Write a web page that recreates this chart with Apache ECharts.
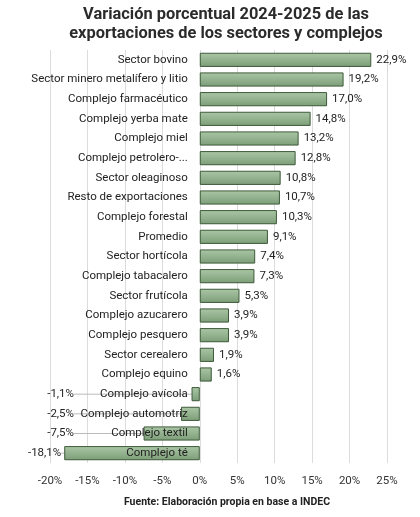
<!DOCTYPE html>
<html><head><meta charset="utf-8">
<script src="https://cdn.jsdelivr.net/npm/echarts@6/dist/echarts.min.js"></script>
<style>html,body{margin:0;padding:0;background:#fff}#c{width:420px;height:517px}</style>
</head><body><div id="c"></div>
<script>
var categories = ["Sector bovino","Sector minero metalífero y litio","Complejo farmacéutico","Complejo yerba mate","Complejo miel","Complejo petrolero-...","Sector oleaginoso","Resto de exportaciones","Complejo forestal","Promedio","Sector hortícola","Complejo tabacalero","Sector frutícola","Complejo azucarero","Complejo pesquero","Sector cerealero","Complejo equino","Complejo avícola","Complejo automotriz","Complejo textil","Complejo té"];
var values = [22.9,19.2,17.0,14.8,13.2,12.8,10.8,10.7,10.3,9.1,7.4,7.3,5.3,3.9,3.9,1.9,1.6,-1.1,-2.5,-7.5,-18.1];
var titleText = "Variación porcentual 2024-2025 de las\nexportaciones de los sectores y complejos";
var sourceText = "Fuente: Elaboración propia en base a INDEC";

var chart = echarts.init(document.getElementById('c'));
var FONT = 'Roboto';
function fmt(v){ return v.toFixed(1).replace('.', ',') + '%'; }
var barData = values.map(function(v){
  return {value: v, labelLine: {show: v < 0}};
});
var GRID_LEFT = 50, GRID_RIGHT = 33, XMIN = -20, XMAX = 25;
var plotW = 420 - GRID_LEFT - GRID_RIGHT;
var zeroOffset = plotW * (0 - XMIN) / (XMAX - XMIN);
chart.setOption({
  animation: false,
  textStyle: {fontFamily: FONT},
  title: [{
    text: titleText, left: 221, textAlign: 'center', top: 0,
    textStyle: {fontFamily: FONT, fontSize: 16.4, fontWeight: 'bold', color: '#2b2b2b', lineHeight: 19}
  },{
    text: sourceText, left: 222, textAlign: 'center', bottom: 4,
    textStyle: {fontFamily: FONT, fontSize: 10.5, fontWeight: 'bold', color: '#222'}
  }],
  grid: {left: GRID_LEFT, right: GRID_RIGHT, top: 50, bottom: 54, containLabel: false, outerBoundsMode: 'none'},
  xAxis: {
    type: 'value', min: XMIN, max: XMAX, interval: 5,
    axisLabel: {formatter: function(v){return v + '%';}, color: '#333', fontSize: 11.5, margin: 12},
    axisLine: {show: false}, axisTick: {show: false},
    splitLine: {lineStyle: {color: '#dcdcdc', width: 1}}
  },
  yAxis: {
    type: 'category', data: categories, inverse: true, z: 10, offset: -zeroOffset,
    axisLine: {show: false, onZero: false}, axisTick: {show: false},
    axisLabel: {color: '#222', fontSize: 11.5, fontFamily: FONT, margin: 12}
  },
  series: [{
    type: 'bar', data: barData, barCategoryGap: '28%',
    itemStyle: {
      color: new echarts.graphic.LinearGradient(0,0,0,1,[{offset:0,color:'#abc7a6'},{offset:1,color:'#7c9d77'}]),
      borderColor: '#3d5a3a', borderWidth: 1
    },
    label: {show: true, position: 'right', color: '#222', fontSize: 11.5,
      formatter: function(p){ return fmt(p.value); }, distance: 5},
    labelLine: {lineStyle: {color: '#bbb', width: 1}},
    labelLayout: function(p){
      var v = values[p.dataIndex];
      if (v < 0) {
        var r = p.rect;
        var left = Math.min(r.x, r.x + r.width);
        var x = Math.min(left - 3, 74);
        return {x: x - p.labelRect.width, y: p.labelRect.y};
      }
      return {};
    }
  }]
});
</script></body></html>
